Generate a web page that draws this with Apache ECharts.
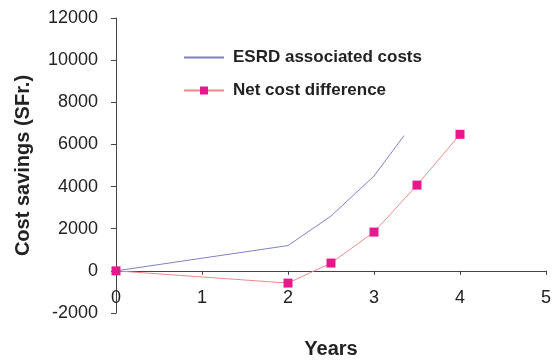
<!DOCTYPE html>
<html><head><meta charset="utf-8">
<script src="https://cdn.jsdelivr.net/npm/echarts@6/dist/echarts.min.js"></script>
<style>html,body{margin:0;padding:0;background:#fff}#c{width:552px;height:360px}</style>
</head><body><div id="c"></div>
<script>
const esrdYears = [0, 2, 2.5, 3, 3.35];
const esrdCosts = [0, 1200, 2600, 4500, 6420];
const netYears = [0, 2, 2.5, 3, 3.5, 4];
const netDiff = [0, -580, 370, 1840, 4070, 6480];
const xTicks = [0, 1, 2, 3, 4, 5];
const yTicks = [-2000, 0, 2000, 4000, 6000, 8000, 10000, 12000];

const font = 'Liberation Sans, Arial, sans-serif';
const chart = echarts.init(document.getElementById('c'));
chart.setOption({
  animation: false,
  grid: {left: 116, right: 6, top: 18, bottom: 47, containLabel: false, outerBoundsMode: 'none'},
  legend: {
    orient: 'vertical', left: 178, top: 44, itemGap: 16,
    itemWidth: 40, itemHeight: 10,
    textStyle: {fontFamily: font, fontSize: 17, fontWeight: 'bold', color: '#222', padding: [0,0,0,4]},
    data: [
      {name: 'ESRD associated costs', itemStyle: {opacity: 0}},
      {name: 'Net cost difference'}
    ]
  },
  xAxis: {
    type: 'value', min: xTicks[0], max: xTicks[xTicks.length-1], interval: 1,
    name: 'Years', nameLocation: 'middle', nameGap: 26,
    nameTextStyle: {fontFamily: font, fontSize: 20, fontWeight: 'bold', color: '#222'},
    axisLine: {show: true, onZero: true, lineStyle: {color: '#444', width: 1}},
    axisTick: {show: true, inside: false, length: 4, lineStyle: {color: '#444'}},
    axisLabel: {fontFamily: font, fontSize: 18, color: '#222', margin: -24, formatter: v => String(v)},
    splitLine: {show: false}
  },
  yAxis: {
    type: 'value', min: yTicks[0], max: yTicks[yTicks.length-1], interval: 2000,
    name: 'Cost savings (SFr.)', nameLocation: 'middle', nameGap: 83,
    nameTextStyle: {fontFamily: font, fontSize: 20, fontWeight: 'bold', color: '#222'},
    axisLine: {show: true, onZero: false, lineStyle: {color: '#444', width: 1}},
    axisTick: {show: true, inside: false, length: 5, lineStyle: {color: '#444'}},
    axisLabel: {fontFamily: font, fontSize: 18, color: '#222', margin: 18, formatter: v => String(v)},
    splitLine: {show: false}
  },
  series: [
    {
      name: 'ESRD associated costs', type: 'line',
      data: esrdYears.map((x, i) => [x, esrdCosts[i]]),
      symbol: 'none', lineStyle: {color: '#8080c8', width: 1}, itemStyle: {color: '#8080c8'}, z: 2
    },
    {
      name: 'Net cost difference', type: 'line',
      data: netYears.map((x, i) => [x, netDiff[i]]),
      symbol: 'rect', symbolSize: 9,
      lineStyle: {color: '#f08a8a', width: 1}, itemStyle: {color: '#e8188c'}, z: 3
    }
  ]
});
</script></body></html>
